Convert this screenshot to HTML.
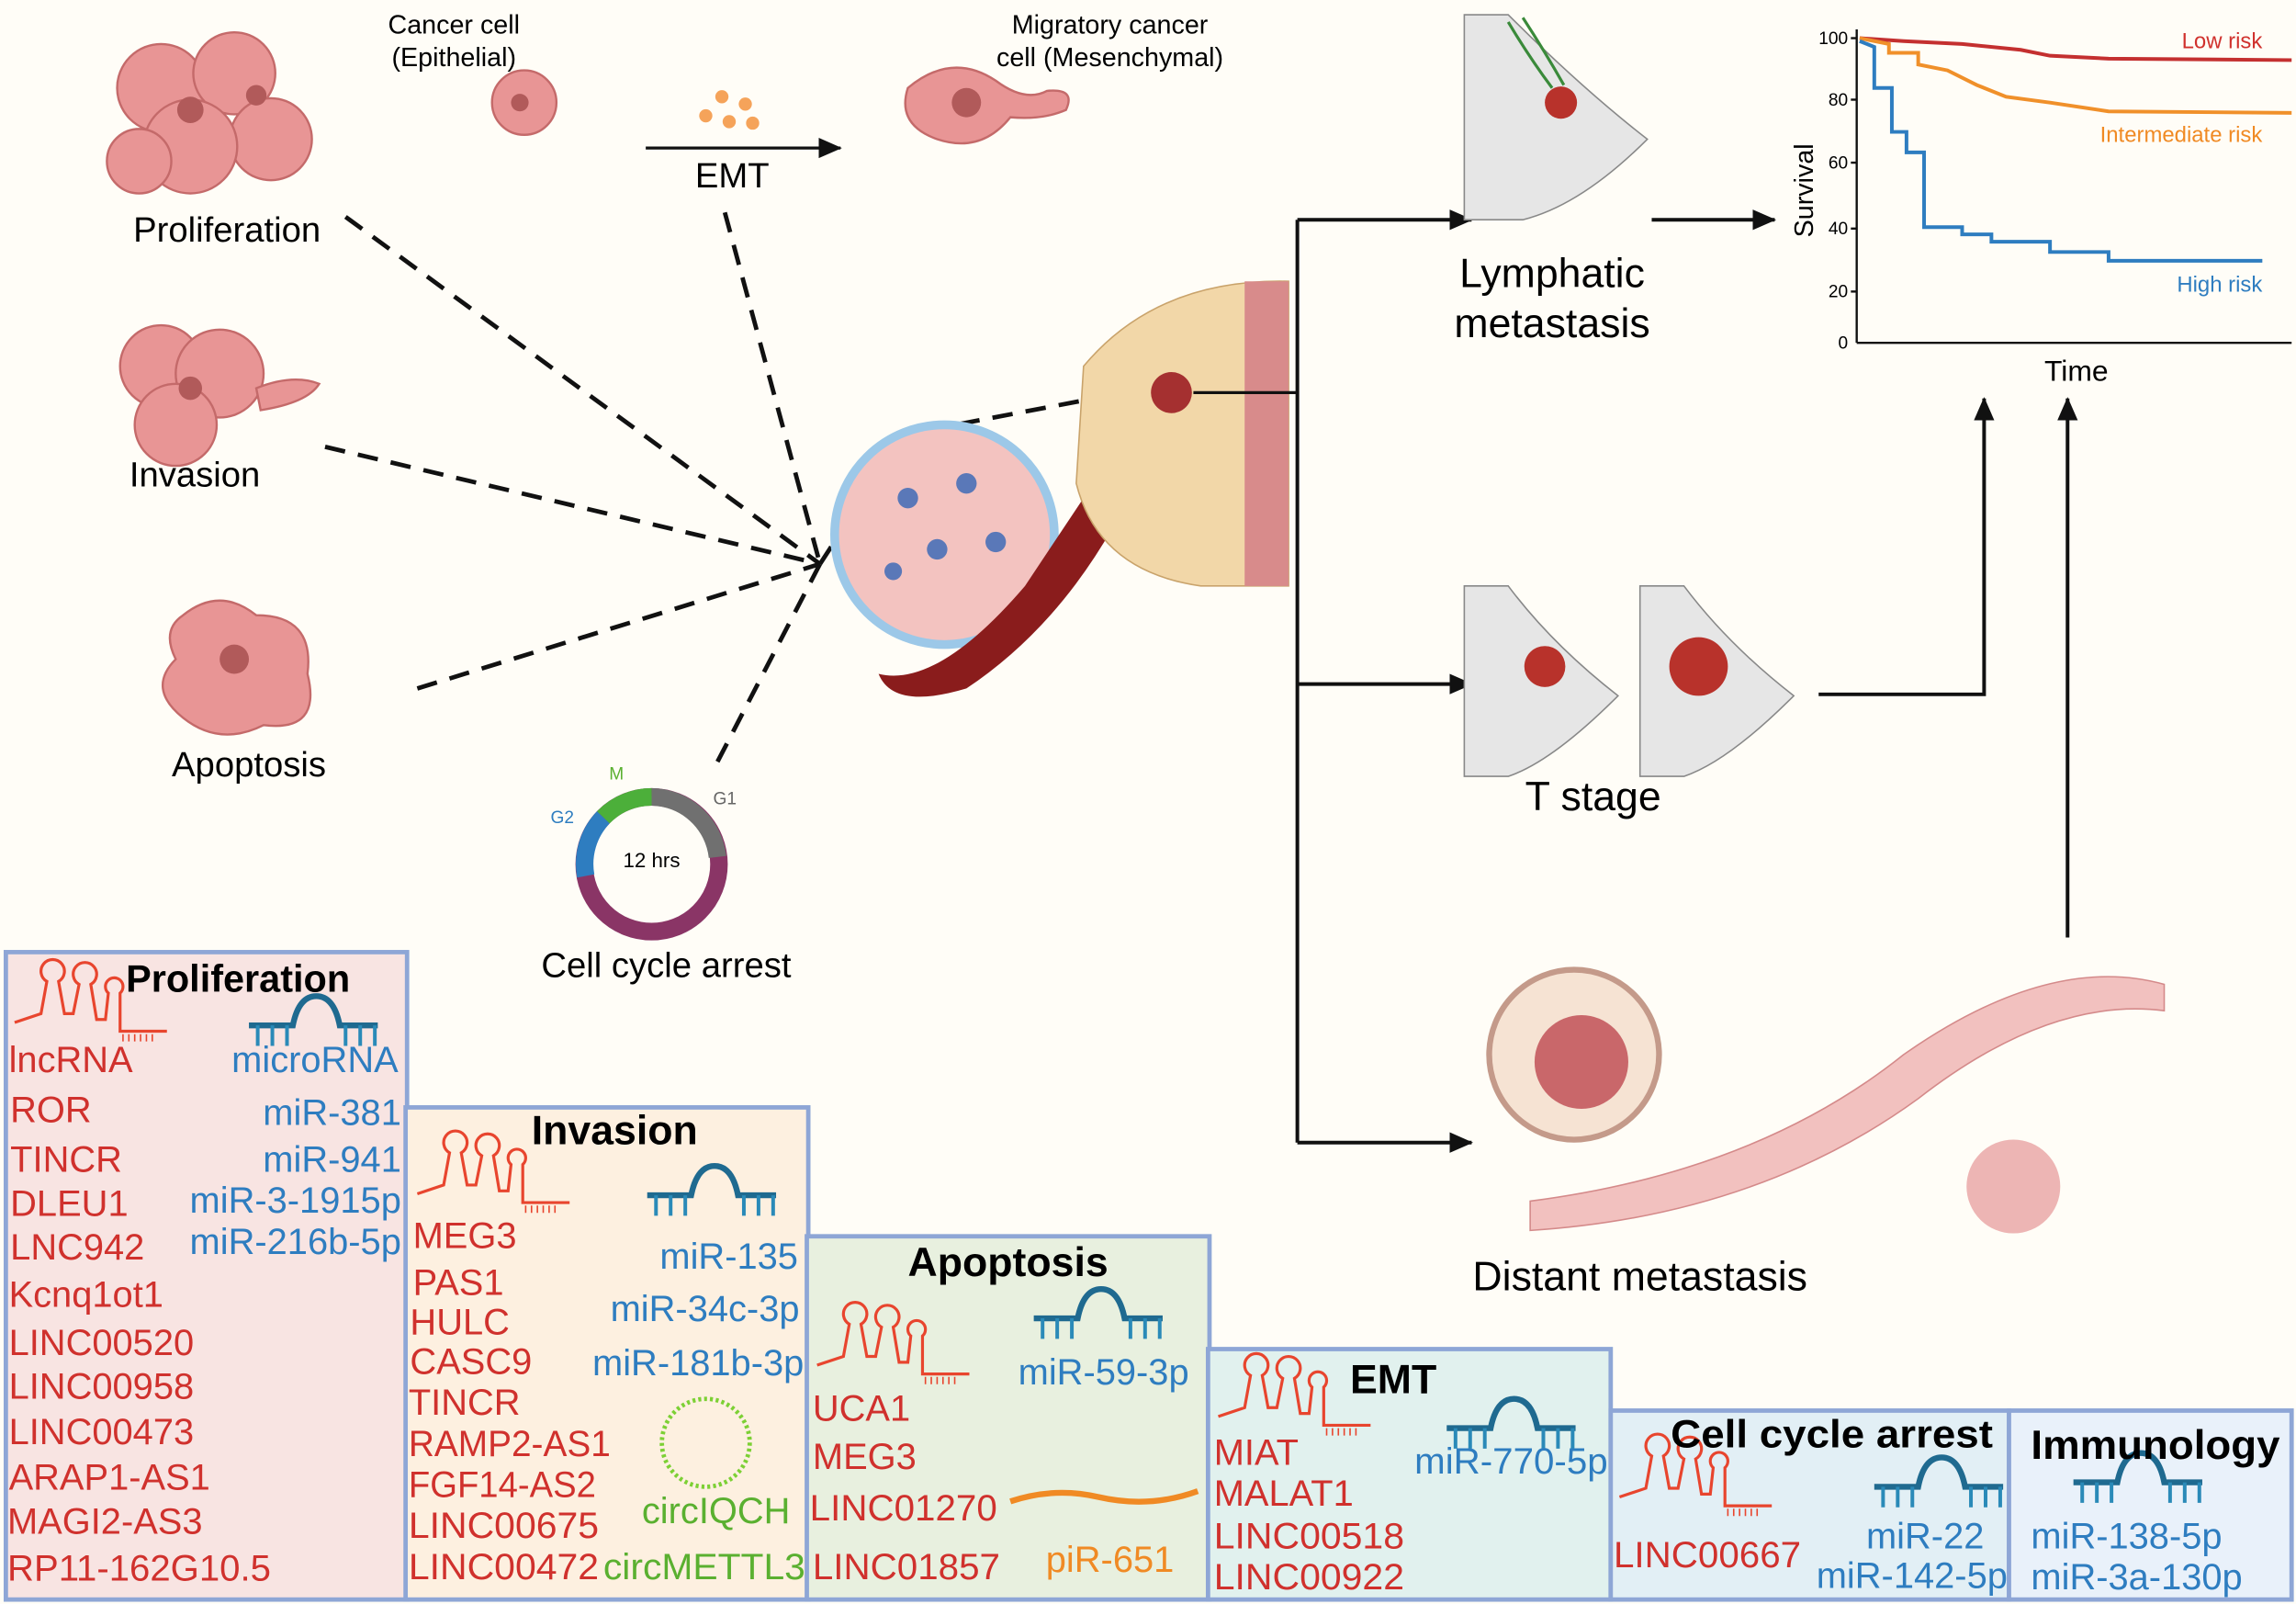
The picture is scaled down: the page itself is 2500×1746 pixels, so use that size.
<!DOCTYPE html>
<html><head><meta charset="utf-8"><style>
html,body{margin:0;padding:0;background:#fffdf7}
svg{display:block}
text{font-family:"Liberation Sans",sans-serif}
.r{fill:#d0312d}.b{fill:#2e7dc0}.g{fill:#5ab030}.o{fill:#f08a24}
.h{font-weight:bold;fill:#000}
</style></head><body>
<svg width="2500" height="1746" viewBox="0 0 1568 1095" xmlns="http://www.w3.org/2000/svg">
<defs>
<g id="lnc" fill="none" stroke="#e8452e" stroke-width="2">
<path d="M0 42 L18 36 L22 14 A8 8 0 1 1 30 14 L34 36 L40 36 L44 16 A8 8 0 1 1 52 16 L56 40 L62 40 L64 22 A6 6 0 1 1 72 22 L72 48 L104 48"/>
<path d="M74 50 v5 M78 50 v5 M82 50 v5 M86 50 v5 M90 50 v5 M94 50 v5" stroke-width="1"/>
</g>
<g id="mir" fill="none" stroke="#1f6a90" stroke-width="4">
<path d="M0 20 H30 Q34 0 46 0 Q58 0 62 20 H88"/>
<path d="M6 20v14 M16 20v14 M26 20v14 M66 20v14 M76 20v14 M86 20v14" stroke-width="2.5" stroke="#2a8ab8"/>
</g>
<marker id="ar2" markerWidth="16" markerHeight="14" refX="15" refY="7" orient="auto" markerUnits="userSpaceOnUse"><path d="M0 0L16 7L0 14z" fill="#111"/></marker>
</defs>
<rect width="1568" height="1095" fill="#fffdf7"/>

<g fill="#e89595" stroke="#c46a6a" stroke-width="1.5">
<circle cx="110" cy="60" r="30"/><circle cx="160" cy="50" r="28"/><circle cx="185" cy="95" r="28"/><circle cx="130" cy="100" r="32"/><circle cx="95" cy="110" r="22"/>
<circle cx="110" cy="250" r="28"/><circle cx="150" cy="255" r="30"/><circle cx="120" cy="290" r="28"/><path d="M175 265 Q200 255 218 262 Q210 275 178 280z"/>
<path d="M125 420 Q150 400 175 420 Q215 420 210 460 Q220 500 180 495 Q150 510 125 490 Q100 470 120 450 Q110 430 125 420z"/>
<circle cx="358" cy="70" r="22"/>
<path d="M620 60 Q650 35 680 55 Q700 70 715 62 Q735 60 728 75 Q712 82 690 80 Q670 105 640 95 Q612 85 620 60z"/>
</g>
<g fill="#b15a5a"><circle cx="130" cy="75" r="9"/><circle cx="175" cy="65" r="7"/><circle cx="130" cy="265" r="8"/><circle cx="160" cy="450" r="10"/><circle cx="660" cy="70" r="10"/><circle cx="355" cy="70" r="6"/></g>
<g fill="#f5a35a"><circle cx="493" cy="66" r="4.5"/><circle cx="509" cy="71" r="4.5"/><circle cx="482" cy="79" r="4.5"/><circle cx="498" cy="83" r="4.5"/><circle cx="514" cy="84" r="4.5"/></g>
<text x="155" y="165" font-size="24" text-anchor="middle">Proliferation</text>
<text x="133" y="332" font-size="24" text-anchor="middle">Invasion</text>
<text x="170" y="530" font-size="24" text-anchor="middle">Apoptosis</text>
<text x="310" y="23" font-size="18" text-anchor="middle">Cancer cell</text>
<text x="310" y="45" font-size="18" text-anchor="middle">(Epithelial)</text>
<text x="758" y="23" font-size="18" text-anchor="middle">Migratory cancer</text>
<text x="758" y="45" font-size="18" text-anchor="middle">cell (Mesenchymal)</text>
<line x1="441" y1="101" x2="574" y2="101" stroke="#111" stroke-width="2" marker-end="url(#ar2)"/>
<text x="500" y="128" font-size="24" text-anchor="middle">EMT</text>

<g stroke="#111" stroke-width="3" stroke-dasharray="14 9" fill="none">
<line x1="236" y1="148" x2="560" y2="385"/><line x1="222" y1="305" x2="560" y2="385"/><line x1="285" y1="470" x2="560" y2="385"/>
<line x1="495" y1="145" x2="560" y2="385"/><line x1="490" y1="520" x2="560" y2="385"/>
<line x1="610" y1="298" x2="800" y2="262"/><line x1="560" y1="385" x2="618" y2="296"/>
</g>

<circle cx="645" cy="365" r="75" fill="#f3c3c0" stroke="#9cc8e8" stroke-width="6"/>
<g fill="#5a78b8"><circle cx="620" cy="340" r="7"/><circle cx="660" cy="330" r="7"/><circle cx="640" cy="375" r="7"/><circle cx="680" cy="370" r="7"/><circle cx="610" cy="390" r="6"/></g>
<path d="M600 460 Q640 470 700 400 L740 340 L760 360 Q720 430 660 470 Q610 485 600 460z" fill="#8a1c1c"/>
<path d="M740 250 Q790 190 880 192 L880 400 L820 400 Q750 390 735 330z" fill="#f2d7a8" stroke="#c9a36b"/>
<path d="M850 192 L880 192 L880 400 L850 400z" fill="#d88b8b"/>
<circle cx="800" cy="268" r="14" fill="#a53030"/>
<line x1="815" y1="268" x2="886" y2="268" stroke="#111" stroke-width="2"/>

<circle cx="445" cy="590" r="46" fill="none" stroke="#8a3566" stroke-width="12"/>
<path d="M445 544 A46 46 0 0 1 490 585" fill="none" stroke="#707070" stroke-width="12"/>
<path d="M412 558 A46 46 0 0 1 445 544" fill="none" stroke="#4caf3a" stroke-width="12"/>
<path d="M400 598 A46 46 0 0 1 412 558" fill="none" stroke="#2e7dc0" stroke-width="12"/>
<text x="445" y="592" font-size="14" text-anchor="middle">12 hrs</text>
<text x="416" y="532" font-size="12" class="g">M</text><text x="487" y="549" font-size="12" fill="#666">G1</text><text x="376" y="562" font-size="12" class="b">G2</text>
<text x="455" y="667" font-size="24" text-anchor="middle">Cell cycle arrest</text>

<g stroke="#111" stroke-width="2.5" fill="none">
<polyline points="886,150 886,780"/>
<line x1="886" y1="150" x2="1005" y2="150" marker-end="url(#ar2)"/>
<line x1="886" y1="467" x2="1005" y2="467" marker-end="url(#ar2)"/>
<line x1="886" y1="780" x2="1005" y2="780" marker-end="url(#ar2)"/>
<line x1="1128" y1="150" x2="1212" y2="150" marker-end="url(#ar2)"/>
<polyline points="1242,474 1355,474 1355,272" marker-end="url(#ar2)"/>
<line x1="1412" y1="640" x2="1412" y2="272" marker-end="url(#ar2)"/>
</g>

<g fill="#e6e6e6" stroke="#888">
<path d="M1000 10 L1030 10 Q1080 60 1125 95 Q1080 140 1040 150 L1000 150z"/>
<path d="M1000 400 L1030 400 Q1060 440 1105 475 Q1060 520 1030 530 L1000 530z"/>
<path d="M1120 400 L1150 400 Q1180 440 1225 475 Q1180 520 1150 530 L1120 530z"/>
</g>
<path d="M1030 15 Q1045 40 1060 60 M1040 12 Q1055 35 1068 58" fill="none" stroke="#3a8a3a" stroke-width="2"/>
<circle cx="1066" cy="70" r="11" fill="#b8322b"/>
<circle cx="1055" cy="455" r="14" fill="#b8322b"/><circle cx="1160" cy="455" r="20" fill="#b8322b"/>
<text x="1060" y="196" font-size="28" text-anchor="middle">Lymphatic</text>
<text x="1060" y="230" font-size="28" text-anchor="middle">metastasis</text>
<text x="1088" y="553" font-size="28" text-anchor="middle">T stage</text>

<circle cx="1075" cy="720" r="58" fill="#f6e3d3" stroke="#c49a8a" stroke-width="4"/>
<circle cx="1080" cy="725" r="32" fill="#c9676a"/>
<path d="M1045 820 Q1200 800 1300 720 Q1400 650 1478 672 L1478 690 Q1400 680 1310 750 Q1200 830 1045 840z" fill="#f2c1bf" stroke="#d48a8a"/>
<circle cx="1375" cy="810" r="32" fill="#e8a2a2" opacity="0.8"/>
<text x="1120" y="881" font-size="28" text-anchor="middle">Distant metastasis</text>

<g font-size="12" text-anchor="end">
<text x="1262" y="30">100</text><text x="1262" y="72">80</text><text x="1262" y="115">60</text><text x="1262" y="160">40</text><text x="1262" y="203">20</text><text x="1262" y="238">0</text>
</g>
<g stroke="#111" stroke-width="1.5"><line x1="1268" y1="20" x2="1268" y2="234"/><line x1="1268" y1="234" x2="1565" y2="234"/>
<line x1="1264" y1="26" x2="1268" y2="26"/><line x1="1264" y1="68" x2="1268" y2="68"/><line x1="1264" y1="111" x2="1268" y2="111"/><line x1="1264" y1="156" x2="1268" y2="156"/><line x1="1264" y1="199" x2="1268" y2="199"/></g>
<text x="1238" y="130" font-size="18" transform="rotate(-90 1238 130)" text-anchor="middle">Survival</text>
<text x="1418" y="260" font-size="20" text-anchor="middle">Time</text>
<polyline fill="none" stroke="#c43030" stroke-width="2.5" points="1270,26 1300,28 1340,30 1380,34 1400,38 1440,40 1565,41"/>
<polyline fill="none" stroke="#f0902a" stroke-width="2.5" points="1270,26 1290,30 1290,36 1310,36 1310,44 1330,48 1350,58 1370,66 1400,70 1440,76 1565,77"/>
<polyline fill="none" stroke="#2e7dc0" stroke-width="2.5" points="1270,28 1280,32 1280,60 1292,60 1292,90 1302,90 1302,104 1314,104 1314,155 1340,155 1340,160 1360,160 1360,165 1400,165 1400,172 1440,172 1440,178 1545,178"/>
<text x="1545" y="33" font-size="15" class="r" text-anchor="end">Low risk</text>
<text x="1545" y="97" font-size="15" class="o" text-anchor="end">Intermediate risk</text>
<text x="1545" y="199" font-size="15" class="b" text-anchor="end">High risk</text>

<g stroke="#8ea6d6" stroke-width="3">
<rect x="4" y="650" width="274" height="442" fill="#f8e4e2"/>
<rect x="277" y="756" width="275" height="336" fill="#fdf0e0"/>
<rect x="551" y="844" width="275" height="248" fill="#e8f0df"/>
<rect x="825" y="921" width="275" height="171" fill="#e1f1ee"/>
<rect x="1100" y="963" width="272" height="129" fill="#e2eff5"/>
<rect x="1372" y="963" width="193" height="129" fill="#e9f1fa"/>
</g>
<use href="#lnc" x="10" y="656"/><use href="#mir" x="170" y="680"/>
<use href="#lnc" x="285" y="773"/><use href="#mir" x="442" y="796"/>
<use href="#lnc" x="558" y="890"/><use href="#mir" x="706" y="880"/>
<use href="#lnc" x="832" y="925"/><use href="#mir" x="988" y="955"/>
<use href="#lnc" x="1106" y="980"/><use href="#mir" x="1280" y="995"/>
<use href="#mir" x="1416" y="992"/>
<circle cx="482" cy="985" r="30" fill="none" stroke="#7cd034" stroke-width="3" stroke-dasharray="2 2"/>
<path d="M690 1025 Q720 1015 750 1022 Q785 1030 818 1018" fill="none" stroke="#f08a24" stroke-width="4"/>

<g font-size="25">
<text x="86" y="677" class="h" font-size="26">Proliferation</text>
<text x="6" y="732" class="r">lncRNA</text><text x="272" y="732" class="b" text-anchor="end">microRNA</text>
<g class="r"><text x="7" y="766">ROR</text><text x="7" y="800">TINCR</text><text x="7" y="830">DLEU1</text><text x="7" y="860">LNC942</text><text x="6" y="892">Kcnq1ot1</text><text x="6" y="925">LINC00520</text><text x="6" y="955">LINC00958</text><text x="6" y="986">LINC00473</text><text x="6" y="1017">ARAP1-AS1</text><text x="5" y="1047">MAGI2-AS3</text><text x="5" y="1079" textLength="180" lengthAdjust="spacingAndGlyphs">RP11-162G10.5</text></g>
<g class="b" text-anchor="end"><text x="274" y="768">miR-381</text><text x="274" y="800">miR-941</text><text x="274" y="828">miR-3-1915p</text><text x="274" y="856">miR-216b-5p</text></g>

<text x="363" y="781" class="h" font-size="28">Invasion</text>
<g class="r"><text x="282" y="852">MEG3</text><text x="282" y="884">PAS1</text><text x="280" y="911">HULC</text><text x="280" y="938">CASC9</text><text x="279" y="966">TINCR</text><text x="279" y="994" textLength="138" lengthAdjust="spacingAndGlyphs">RAMP2-AS1</text><text x="279" y="1022" textLength="128" lengthAdjust="spacingAndGlyphs">FGF14-AS2</text><text x="279" y="1050" textLength="130" lengthAdjust="spacingAndGlyphs">LINC00675</text><text x="279" y="1078" textLength="130" lengthAdjust="spacingAndGlyphs">LINC00472</text></g>
<g class="b" text-anchor="end"><text x="545" y="866">miR-135</text><text x="546" y="902">miR-34c-3p</text><text x="549" y="939">miR-181b-3p</text></g>
<text x="489" y="1040" class="g" text-anchor="middle">circIQCH</text><text x="412" y="1078" class="g" textLength="138" lengthAdjust="spacingAndGlyphs">circMETTL3</text>

<text x="620" y="871" class="h" font-size="28">Apoptosis</text>
<g class="r"><text x="555" y="970">UCA1</text><text x="555" y="1003">MEG3</text><text x="553" y="1038" textLength="128" lengthAdjust="spacingAndGlyphs">LINC01270</text><text x="555" y="1078" textLength="128" lengthAdjust="spacingAndGlyphs">LINC01857</text></g>
<text x="812" y="945" class="b" text-anchor="end">miR-59-3p</text>
<text x="758" y="1073" class="o" text-anchor="middle">piR-651</text>

<text x="922" y="951" class="h" font-size="28">EMT</text>
<g class="r"><text x="829" y="1000">MIAT</text><text x="829" y="1028">MALAT1</text><text x="829" y="1057" textLength="130" lengthAdjust="spacingAndGlyphs">LINC00518</text><text x="829" y="1085" textLength="130" lengthAdjust="spacingAndGlyphs">LINC00922</text></g>
<text x="966" y="1006" class="b" textLength="132" lengthAdjust="spacingAndGlyphs">miR-770-5p</text>

<text x="1141" y="988" class="h" font-size="27" textLength="220" lengthAdjust="spacingAndGlyphs">Cell cycle arrest</text>
<text x="1102" y="1070" class="r" textLength="128" lengthAdjust="spacingAndGlyphs">LINC00667</text>
<g class="b" text-anchor="end"><text x="1355" y="1057">miR-22</text><text x="1371" y="1084">miR-142-5p</text></g>

<text x="1387" y="996" class="h" font-size="28" textLength="170" lengthAdjust="spacingAndGlyphs">Immunology</text>
<g class="b"><text x="1387" y="1057">miR-138-5p</text><text x="1387" y="1085">miR-3a-130p</text></g>
</g>
</svg>
</body></html>
